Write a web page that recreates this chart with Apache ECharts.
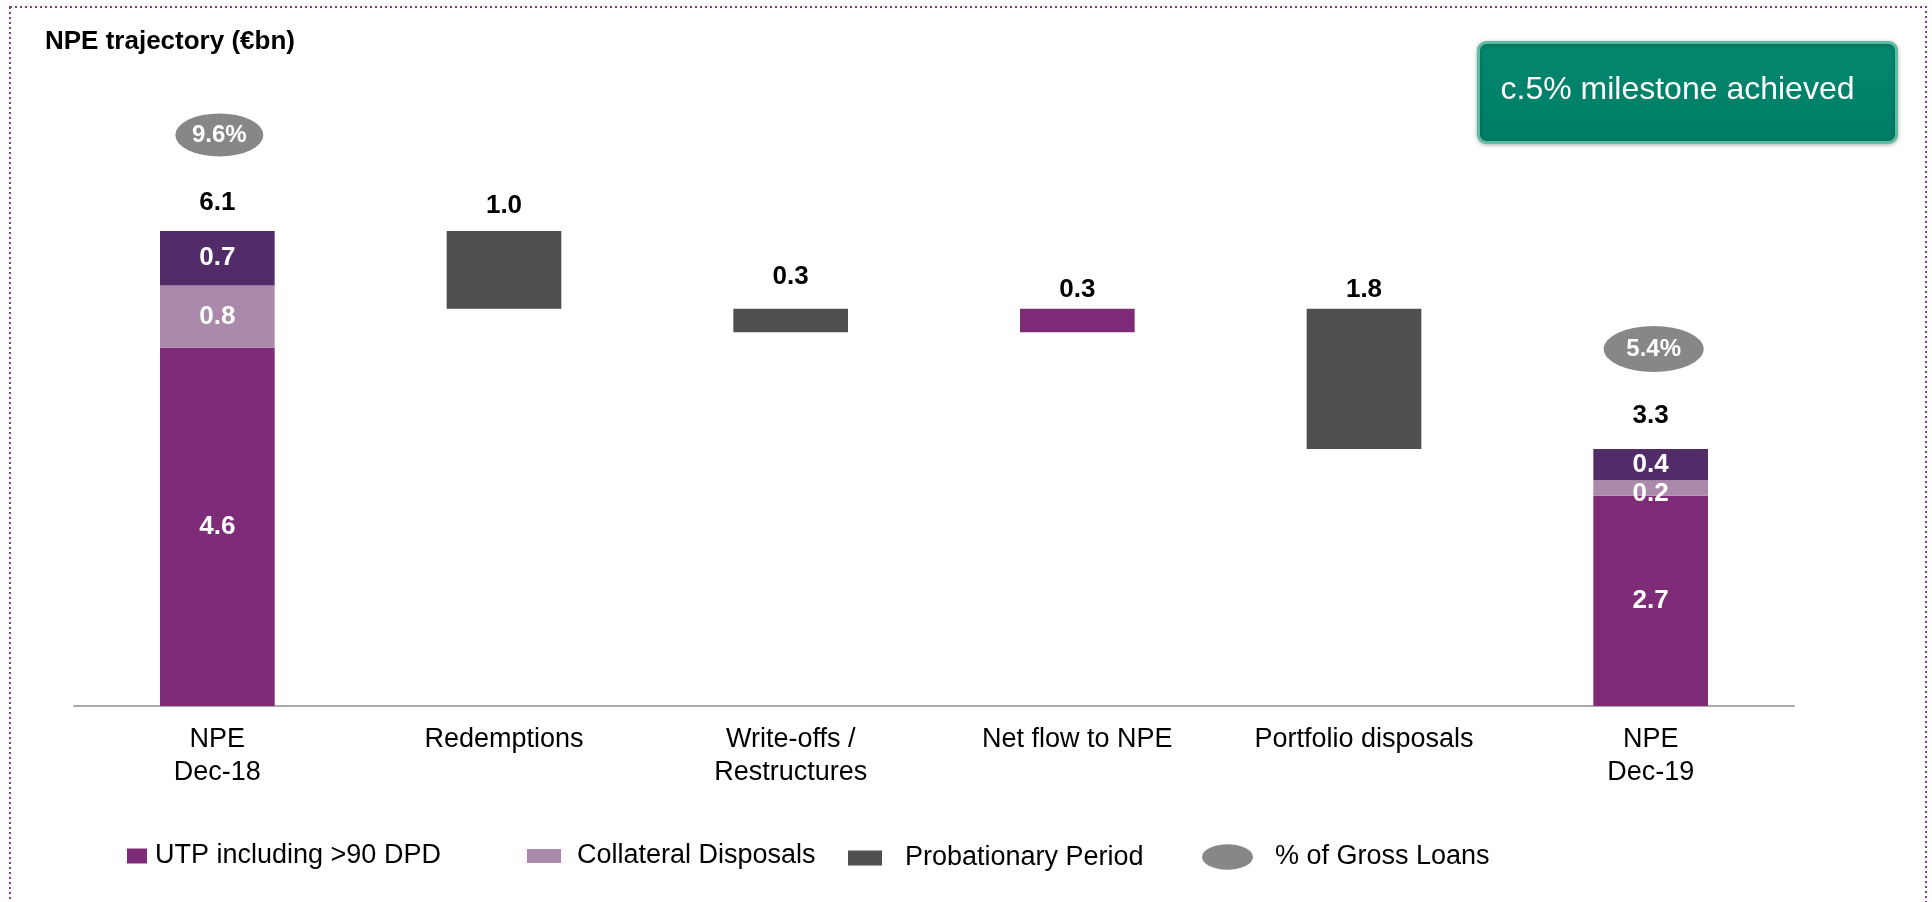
<!DOCTYPE html>
<html>
<head>
<meta charset="utf-8">
<title>NPE trajectory</title>
<script src="https://cdn.jsdelivr.net/npm/echarts@6/dist/echarts.min.js"></script>
<style>
  html, body { margin: 0; padding: 0; background: #ffffff; }
  #chart { width: 1932px; height: 902px; }
</style>
</head>
<body>
<div id="chart"></div>
<script>
// ---- data (€bn) ----
const categories = ['NPE\nDec-18', 'Redemptions', 'Write-offs /\nRestructures', 'Net flow to NPE', 'Portfolio disposals', 'NPE\nDec-19'];
// year-end stock composition
const utp          = [4.6, null, null, null, null, 2.7];
const collateral   = [0.8, null, null, null, null, 0.2];
const probationary = [0.7, null, null, null, null, 0.4];
const grossLoansPct = ['9.6%', null, null, null, null, '5.4%'];
// movements between the two year-ends
const movements = [null, 1.0, 0.3, 0.3, 1.8, null];
const direction = [0, -1, -1, 1, -1, 0];

// ---- styling ----
const FONT = "'Liberation Sans', Arial, Helvetica, sans-serif";
const C_UTP = '#7e2b78';
const C_COLL = '#ab89ab';
const C_PROB_STACK = '#522b69';
const C_GREY = '#4f4f4f';
const C_PCT = '#878787';
const ELLIPSE = 'path://M0,25A50,25 0 1,1 100,25A50,25 0 1,1 0,25Z';

const r1 = v => Math.round(v * 10) / 10;

// totals of the stacked year-end bars
const totals = categories.map((_, i) => utp[i] == null ? null : r1(utp[i] + collateral[i] + probationary[i]));

// invisible base for the floating movement bars
const base = [];
let level = totals[0];
categories.forEach((_, i) => {
  if (movements[i] == null) { base.push(null); if (totals[i] != null) level = totals[i]; return; }
  if (direction[i] < 0) { level = r1(level - movements[i]); base.push(level); }
  else { base.push(level); level = r1(level + movements[i]); }
});

// label spacing above bars / ellipse placement
const moveLabelDist = [0, 12, 19, 6, 6, 0];
const totalLabelDist = [15, 0, 0, 0, 0, 20];
const pctShape = [ { size: [88, 43], offset: [2, -96] }, null, null, null, null, { size: [100, 46], offset: [3, -100] } ];
const moveColor = direction.map(d => d > 0 ? C_UTP : C_GREY);

const inLabel = {
  show: true, position: 'inside', color: '#ffffff', fontWeight: 'bold',
  fontSize: 26, fontFamily: FONT, formatter: p => p.value.toFixed(1)
};

const nil = v => v == null ? '-' : v;

const option = {
  animation: false,
  backgroundColor: '#ffffff',
  textStyle: { fontFamily: FONT },
  title: {
    text: 'NPE trajectory (€bn)', left: 45, top: 29, padding: 0,
    textStyle: { fontSize: 26, fontWeight: 'bold', color: '#000000', fontFamily: FONT, lineHeight: 26 }
  },
  grid: { left: 74, right: 138, top: 83, bottom: 196, containLabel: false },
  xAxis: {
    type: 'category', data: categories,
    axisLine: { lineStyle: { color: '#ababab', width: 2 } },
    axisTick: { show: false },
    axisLabel: { color: '#000000', fontSize: 27, lineHeight: 33, margin: 17, fontFamily: FONT, interval: 0 }
  },
  yAxis: { type: 'value', min: 0, max: 8, show: false, splitLine: { show: false } },
  legend: [
    { left: 122, top: 836, itemWidth: 20, itemHeight: 15, selectedMode: false,
      data: [{ name: 'UTP including >90 DPD', icon: 'rect' }],
      textStyle: { fontSize: 27, color: '#000', lineHeight: 30, padding: [0, 0, 0, 3], fontFamily: FONT } },
    { left: 522, top: 836, itemWidth: 34, itemHeight: 14, selectedMode: false,
      data: [{ name: 'Collateral Disposals', icon: 'rect' }],
      textStyle: { fontSize: 27, color: '#000', lineHeight: 30, padding: [0, 0, 0, 11], fontFamily: FONT } },
    { left: 843, top: 838, itemWidth: 34, itemHeight: 15, selectedMode: false,
      data: [{ name: 'Probationary Period', icon: 'rect' }],
      textStyle: { fontSize: 27, color: '#000', lineHeight: 30, padding: [0, 0, 0, 18], fontFamily: FONT } },
    { left: 1197, top: 837, itemWidth: 51, itemHeight: 29, selectedMode: false,
      data: [{ name: '% of Gross Loans', icon: ELLIPSE }],
      textStyle: { fontSize: 27, color: '#000', lineHeight: 30, padding: [0, 0, 0, 17], fontFamily: FONT } }
  ],
  series: [
    {
      name: 'base', type: 'bar', stack: 'npe', barWidth: '40%', silent: true,
      itemStyle: { color: 'rgba(0,0,0,0)' }, data: base.map(nil)
    },
    {
      name: 'UTP including >90 DPD', type: 'bar', stack: 'npe', barWidth: '40%',
      itemStyle: { color: C_UTP }, label: inLabel, data: utp.map(nil)
    },
    {
      name: 'Collateral Disposals', type: 'bar', stack: 'npe', barWidth: '40%',
      itemStyle: { color: C_COLL },
      label: inLabel,
      data: collateral.map((v, i) => v == null ? '-' : { value: v, label: { offset: [0, v < 0.3 ? 6 : 0] } })
    },
    {
      name: 'Probationary Period', type: 'bar', stack: 'npe', barWidth: '40%',
      itemStyle: { color: C_GREY }, label: inLabel,
      data: probationary.map(v => v == null ? '-' : { value: v, itemStyle: { color: C_PROB_STACK } })
    },
    {
      name: 'movement', type: 'bar', stack: 'npe', barWidth: '40%',
      data: movements.map((v, i) => v == null ? '-' : {
        value: v,
        itemStyle: { color: moveColor[i] },
        label: { show: true, position: 'top', distance: moveLabelDist[i] }
      }),
      label: { color: '#000', fontWeight: 'bold', fontSize: 26, fontFamily: FONT, formatter: p => p.value.toFixed(1) }
    },
    {
      name: 'total', type: 'scatter', symbol: 'rect', symbolSize: 1, silent: true, z: 5,
      itemStyle: { color: 'rgba(0,0,0,0)', opacity: 1 },
      data: totals.map((v, i) => v == null ? '-' : {
        value: v,
        label: { show: true, position: 'top', distance: totalLabelDist[i] }
      }),
      label: { color: '#000', fontWeight: 'bold', fontSize: 26, fontFamily: FONT, formatter: p => p.value.toFixed(1) }
    },
    {
      name: '% of Gross Loans', type: 'scatter', symbol: ELLIPSE, z: 6,
      itemStyle: { color: C_PCT, opacity: 1 },
      data: totals.map((v, i) => v == null ? '-' : {
        value: v,
        symbolSize: pctShape[i].size,
        symbolOffset: pctShape[i].offset
      }),
      label: {
        show: true, position: 'inside', color: '#ffffff', fontWeight: 'bold', fontSize: 24, fontFamily: FONT,
        formatter: p => grossLoansPct[p.dataIndex]
      }
    }
  ],
  graphic: [
    // dotted frame
    {
      type: 'rect', silent: true, z: 0,
      shape: { x: 10, y: 7, width: 1916, height: 1000 },
      style: { fill: 'none', stroke: '#8a3d86', lineWidth: 2, lineDash: [2, 3] }
    },
    // milestone badge
    {
      type: 'group', left: 1477, top: 41, z: 10,
      children: [
        {
          type: 'rect',
          shape: { x: 0, y: 0, width: 418, height: 100, r: 8 },
          style: {
            fill: new echarts.graphic.LinearGradient(0, 0, 0, 1, [
              { offset: 0, color: '#07876f' }, { offset: 0.5, color: '#00826a' }, { offset: 1, color: '#017c65' }
            ]),
            stroke: '#5fbca0', lineWidth: 3,
            shadowBlur: 4, shadowColor: 'rgba(0,0,0,0.25)', shadowOffsetY: 1
          }
        },
        {
          type: 'text',
          style: {
            x: 22, y: 48, text: 'c.5% milestone achieved', fill: '#ffffff',
            fontSize: 32, fontFamily: FONT, verticalAlign: 'middle', align: 'left'
          }
        }
      ]
    }
  ]
};

const chart = echarts.init(document.getElementById('chart'), null, { renderer: 'canvas' });
chart.setOption(option);
</script>
</body>
</html>
